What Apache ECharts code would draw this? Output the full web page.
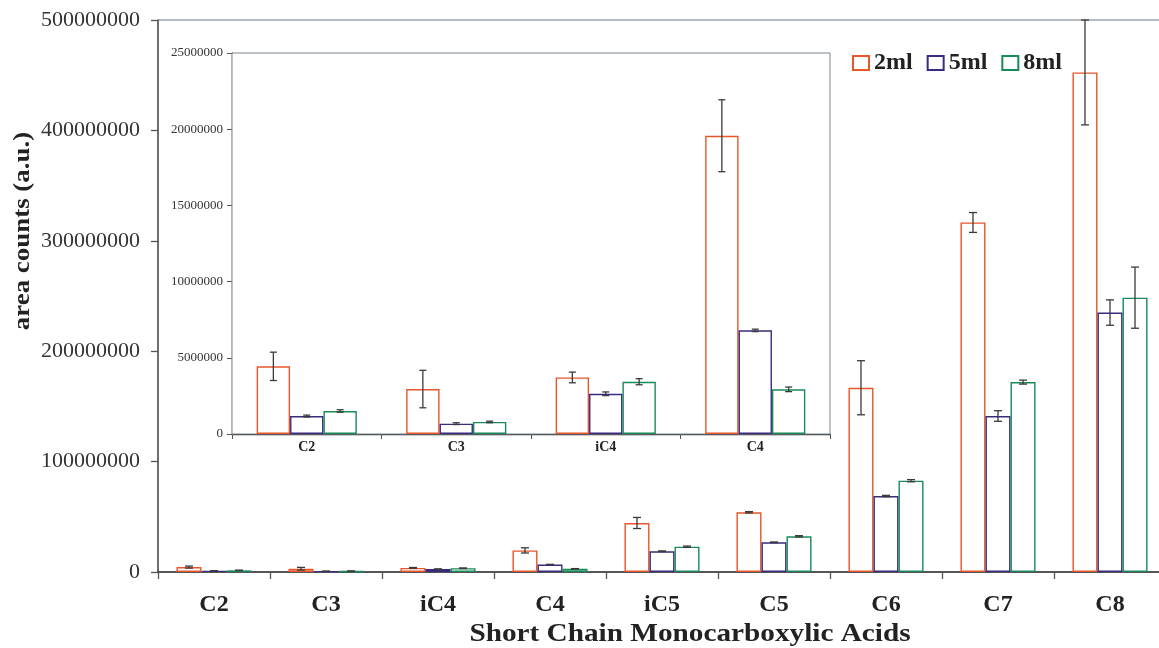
<!DOCTYPE html>
<html>
<head>
<meta charset="utf-8">
<script src="https://cdn.jsdelivr.net/npm/echarts@6/dist/echarts.min.js"></script>
<style>
  html, body { margin: 0; padding: 0; background: #fff; }
  #chart { width: 1159px; height: 648px; }
</style>
</head>
<body>
<div id="chart"></div>
<script>
// Short chain monocarboxylic acid peak areas for three sample volumes
const categories = ['C2', 'C3', 'iC4', 'C4', 'iC5', 'C5', 'C6', 'C7', 'C8'];
const insetCount = 4; // C2..C4 shown enlarged in the inset

const vol2ml = [4.44e6, 2.95e6, 3.71e6, 19.57e6, 44.4e6, 54.1e6, 166.9e6, 316.6e6, 452.5e6];
const vol5ml = [1.18e6, 0.68e6, 2.64e6, 6.8e6, 18.8e6, 26.9e6, 68.8e6, 141.3e6, 235.0e6];
const vol8ml = [1.51e6, 0.79e6, 3.43e6, 2.93e6, 22.9e6, 32.3e6, 82.7e6, 172.0e6, 248.5e6];

const err2ml = [0.93e6, 1.23e6, 0.35e6, 2.36e6, 5.0e6, 0.6e6, 24.5e6, 9.0e6, 47.5e6];
const err5ml = [0.06e6, 0.06e6, 0.12e6, 0.08e6, 0.3e6, 0.3e6, 0.6e6, 4.8e6, 11.5e6];
const err8ml = [0.08e6, 0.05e6, 0.2e6, 0.15e6, 0.6e6, 0.6e6, 1.0e6, 1.8e6, 27.7e6];

const seriesNames = ['2ml', '5ml', '8ml'];
const seriesColors = ['#e8562a', '#3b2a80', '#178a58'];

const mainTicks = { min: 0, max: 500000000, interval: 100000000 };
const insetTicks = { min: 0, max: 25000000, interval: 5000000 };

const values = [vol2ml, vol5ml, vol8ml];
const errors = [err2ml, err5ml, err8ml];

const BAR_GAP = 0.33;
const serif = '"Liberation Serif", "Times New Roman", serif';

function errorBarRenderer(k, capHalf) {
  return function (params, api) {
    const cat = api.value(0);
    const val = api.value(1);
    const err = api.value(2);
    const band = api.size([1, 0])[0];
    const barW = band * (1 - BAR_GAP) / 3;
    const cx = api.coord([cat, val])[0] + (k - 1) * barW;
    const yTop = api.coord([cat, val + err])[1];
    const yBot = api.coord([cat, Math.max(val - err, 0)])[1];
    const style = { stroke: '#3a3a3a', lineWidth: 1.3 };
    return {
      type: 'group',
      children: [
        { type: 'line', shape: { x1: cx, y1: yTop, x2: cx, y2: yBot }, style },
        { type: 'line', shape: { x1: cx - capHalf, y1: yTop, x2: cx + capHalf, y2: yTop }, style },
        { type: 'line', shape: { x1: cx - capHalf, y1: yBot, x2: cx + capHalf, y2: yBot }, style }
      ]
    };
  };
}

const series = [];
[0, 1].forEach(function (g) {
  const n = g === 0 ? categories.length : insetCount;
  seriesNames.forEach(function (name, k) {
    series.push({
      name: name,
      type: 'bar',
      xAxisIndex: g,
      yAxisIndex: g,
      barGap: '0%',
      barCategoryGap: '33%',
      itemStyle: { color: '#ffffff', borderColor: seriesColors[k], borderWidth: 1.4 },
      data: values[k].slice(0, n),
      z: 2
    });
  });
  seriesNames.forEach(function (name, k) {
    series.push({
      type: 'custom',
      xAxisIndex: g,
      yAxisIndex: g,
      renderItem: errorBarRenderer(k, g === 0 ? 4 : 3.5),
      data: values[k].slice(0, n).map(function (v, i) { return [i, v, errors[k][i]]; }),
      z: 3
    });
  });
});

const chart = echarts.init(document.getElementById('chart'), null, { renderer: 'canvas' });
chart.setOption({
  animation: false,
  backgroundColor: '#ffffff',
  legend: {
    data: seriesNames,
    icon: 'rect',
    left: 847,
    top: 46,
    itemWidth: 16,
    itemHeight: 14,
    itemGap: 14,
    textStyle: { fontFamily: serif, fontWeight: 'bold', fontSize: 24, color: '#222' }
  },
  grid: [
    {
      left: 158, top: 20, width: 1008, height: 552,
      outerBoundsMode: 'none',
      show: true, borderColor: '#6f7a84', borderWidth: 1, backgroundColor: '#fff'
    },
    {
      left: 232, top: 53, width: 598, height: 381,
      outerBoundsMode: 'none',
      show: true, borderColor: '#7a858f', borderWidth: 1, backgroundColor: '#fff', z: 1
    }
  ],
  xAxis: [
    {
      type: 'category', gridIndex: 0, data: categories,
      axisLine: { lineStyle: { color: '#333', width: 1.5 } },
      axisTick: { show: true, length: 7, lineStyle: { color: '#555', width: 1.3 } },
      axisLabel: { margin: 21, fontFamily: serif, fontWeight: 'bold', fontSize: 24, color: '#222' }
    },
    {
      type: 'category', gridIndex: 1, data: categories.slice(0, insetCount),
      axisLine: { lineStyle: { color: '#333', width: 1.3 } },
      axisTick: { show: true, length: 5, lineStyle: { color: '#555' } },
      axisLabel: { margin: 6, fontFamily: serif, fontWeight: 'bold', fontSize: 14, color: '#222' }
    }
  ],
  yAxis: [
    {
      type: 'value', gridIndex: 0,
      min: mainTicks.min, max: mainTicks.max, interval: mainTicks.interval,
      splitLine: { show: false },
      axisLine: { show: true, lineStyle: { color: '#555', width: 1.5 } },
      axisTick: { show: true, length: 7, lineStyle: { color: '#555', width: 1.3 } },
      axisLabel: {
        margin: 18, fontFamily: serif, fontSize: 22, color: '#333',
        formatter: function (v) { return String(v); }
      }
    },
    {
      type: 'value', gridIndex: 1,
      min: insetTicks.min, max: insetTicks.max, interval: insetTicks.interval,
      splitLine: { show: false },
      axisLine: { show: true, lineStyle: { color: '#555', width: 1.3 } },
      axisTick: { show: true, length: 5, lineStyle: { color: '#555' } },
      axisLabel: {
        margin: 9, fontFamily: serif, fontSize: 13, color: '#333',
        formatter: function (v) { return String(v); }
      }
    }
  ],
  graphic: [
    {
      type: 'text', x: 690, y: 635, scaleX: 1.17,
      style: {
        text: 'Short Chain Monocarboxylic Acids',
        textAlign: 'center', textVerticalAlign: 'middle',
        font: 'bold 25px ' + serif, fill: '#222'
      }
    },
    {
      type: 'text', x: 23, y: 231, rotation: Math.PI / 2, scaleX: 1.17,
      style: {
        text: 'area counts (a.u.)',
        textAlign: 'center', textVerticalAlign: 'middle',
        font: 'bold 23px ' + serif, fill: '#222'
      }
    }
  ],
  series: series
});
</script>
</body>
</html>
